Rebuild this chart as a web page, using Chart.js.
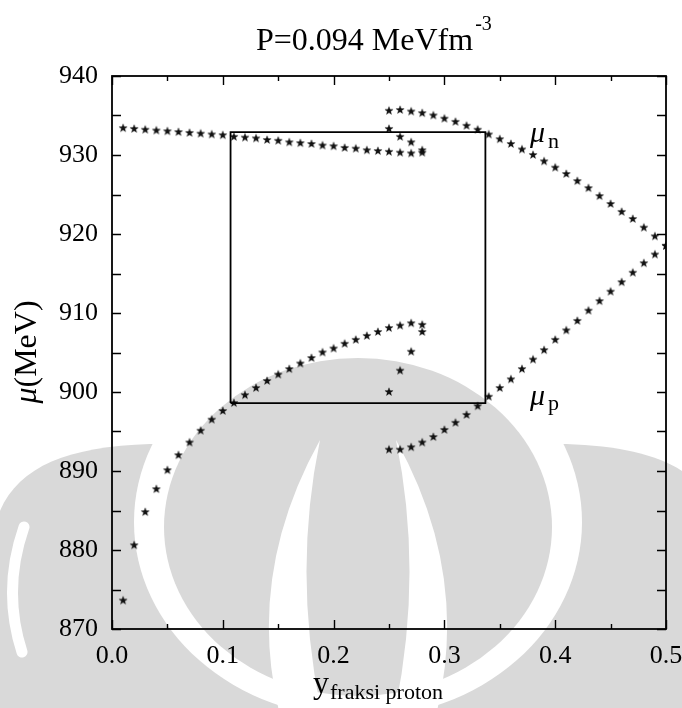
<!DOCTYPE html>
<html>
<head>
<meta charset="utf-8">
<script src="https://cdn.jsdelivr.net/npm/chart.js@4"></script>
<style>
  body { margin: 0; background: #fff; }
  #wrap { width: 682px; height: 708px; }
</style>
</head>
<body>
<div id="wrap"><canvas id="chart" width="682" height="708"></canvas></div>
<script>
// branch mu_n (upper) inner part
const xUpperLeft = [0.01,0.02,0.03,0.04,0.05,0.06,0.07,0.08,0.09,0.10,0.11,0.12,0.13,0.14,0.15,0.16,0.17,0.18,0.19,0.20,0.21,0.22,0.23,0.24,0.25,0.26,0.27,0.28];
const muUpperLeft = [933.4,933.3,933.2,933.1,933.0,932.9,932.8,932.7,932.6,932.5,932.3,932.2,932.1,931.9,931.8,931.6,931.5,931.4,931.2,931.1,930.9,930.8,930.6,930.5,930.4,930.3,930.2,930.3];
const xSpiralN = [0.25,0.26,0.27,0.28];
const muSpiralN = [933.3,932.3,931.6,930.6];
const xOuterN = [0.25,0.26,0.27,0.28,0.29,0.30,0.31,0.32,0.33,0.34,0.35,0.36,0.37,0.38,0.39,0.40,0.41,0.42,0.43,0.44,0.45,0.46,0.47,0.48,0.49,0.50];
const muOuterN = [935.6,935.7,935.5,935.3,935.0,934.6,934.2,933.7,933.2,932.6,932.0,931.4,930.7,930.0,929.2,928.4,927.6,926.7,925.8,924.8,923.8,922.8,921.9,920.8,919.7,918.5];

// branch mu_p (lower)
const xLowerInner = [0.01,0.02,0.03,0.04,0.05,0.06,0.07,0.08,0.09,0.10,0.11,0.12,0.13,0.14,0.15,0.16,0.17,0.18,0.19,0.20,0.21,0.22,0.23,0.24,0.25,0.26,0.27,0.28];
const muLowerInner = [873.6,880.6,884.8,887.7,890.1,892.0,893.6,895.1,896.5,897.6,898.6,899.6,900.5,901.4,902.2,902.9,903.6,904.3,905.0,905.5,906.1,906.6,907.1,907.6,908.1,908.4,908.7,908.5];
const xSpiralP = [0.28,0.27,0.26,0.25];
const muSpiralP = [907.6,905.1,902.7,900.0];
const xOuterP = [0.25,0.26,0.27,0.28,0.29,0.30,0.31,0.32,0.33,0.34,0.35,0.36,0.37,0.38,0.39,0.40,0.41,0.42,0.43,0.44,0.45,0.46,0.47,0.48,0.49,0.50];
const muOuterP = [892.7,892.7,893.0,893.6,894.3,895.2,896.1,897.1,898.2,899.4,900.5,901.6,902.9,904.1,905.3,906.6,907.8,909.0,910.3,911.5,912.7,913.9,915.1,916.3,917.4,918.5];

// rectangle (coexistence region)
const boxX = [0.107,0.107,0.337,0.337,0.107];
const boxMu = [898.6,932.9,932.9,898.6,898.6];

// ticks
const xTicks = [0,0.05,0.1,0.15,0.2,0.25,0.3,0.35,0.4,0.45,0.5];
const xTickLabels = ['0.0','0.1','0.2','0.3','0.4','0.5'];
const yTicks = [870,875,880,885,890,895,900,905,910,915,920,925,930,935,940];

const toPts = (xs, ys) => xs.map((x, i) => ({ x: x, y: ys[i] }));

function makeStar(r) {
  const s = Math.ceil(r * 2 + 3);
  const c = document.createElement('canvas');
  c.width = s; c.height = s;
  const g = c.getContext('2d');
  g.translate(s / 2, s / 2);
  g.beginPath();
  for (let i = 0; i < 10; i++) {
    const a = -Math.PI / 2 + i * Math.PI / 5;
    const rr = i % 2 ? r * 0.42 : r;
    g.lineTo(Math.cos(a) * rr, Math.sin(a) * rr);
  }
  g.closePath();
  g.fillStyle = '#111';
  g.fill();
  g.strokeStyle = 'rgba(0,0,0,0.5)';
  g.lineWidth = 0.6;
  g.stroke();
  return c;
}
const star = makeStar(4.3);

const SERIF = '"Liberation Serif", "Times New Roman", serif';

// gray watermark in the background (rough logo shape)
const watermark = {
  id: 'watermark',
  beforeDraw(chart) {
    const ctx = chart.ctx;
    ctx.save();
    ctx.fillStyle = '#fff';
    ctx.fillRect(0, 0, chart.width, chart.height);
    const gray = '#d9d9d9';
    // outer piece
    ctx.fillStyle = gray;
    ctx.beginPath();
    ctx.moveTo(-5, 708);
    ctx.lineTo(-5, 525);
    ctx.bezierCurveTo(10, 470, 60, 447, 150, 444);
    ctx.lineTo(566, 444);
    ctx.bezierCurveTo(656, 447, 706, 470, 721, 525);
    ctx.lineTo(721, 708);
    ctx.closePath();
    ctx.fill();
    // white ring round the dome
    ctx.fillStyle = '#fff';
    ctx.beginPath();
    ctx.ellipse(358, 522, 224, 196, 0, 0, Math.PI * 2);
    ctx.fill();
    // dome
    ctx.fillStyle = gray;
    ctx.beginPath();
    ctx.ellipse(358, 527, 194, 169, 0, 0, Math.PI * 2);
    ctx.fill();
    // inner crescents
    ctx.fillStyle = '#fff';
    ctx.beginPath();
    ctx.moveTo(320, 440);
    ctx.quadraticCurveTo(245, 575, 280, 715);
    ctx.lineTo(322, 715);
    ctx.quadraticCurveTo(292, 575, 320, 440);
    ctx.fill();
    ctx.beginPath();
    ctx.moveTo(396, 440);
    ctx.quadraticCurveTo(471, 575, 436, 715);
    ctx.lineTo(394, 715);
    ctx.quadraticCurveTo(424, 575, 396, 440);
    ctx.fill();
    // thin edge arc
    ctx.strokeStyle = '#fff';
    ctx.lineCap = 'round';
    ctx.lineWidth = 11;
    ctx.beginPath();
    ctx.moveTo(24, 527);
    ctx.quadraticCurveTo(2, 590, 22, 652);
    ctx.stroke();
    ctx.restore();
  }
};

// frame, inward ticks on all sides, and the texts
const frame = {
  id: 'frame',
  afterDatasetsDraw(chart) {
    const ctx = chart.ctx;
    const a = chart.chartArea;
    const xs = chart.scales.x, ys = chart.scales.y;
    ctx.save();
    ctx.strokeStyle = '#000';
    ctx.lineWidth = 1.8;
    ctx.strokeRect(a.left, a.top, a.right - a.left, a.bottom - a.top);
    ctx.lineWidth = 1.4;
    ctx.beginPath();
    xTicks.forEach((v, i) => {
      const px = Math.round(xs.getPixelForValue(v)) + 0.5;
      const len = i % 2 === 0 ? 9 : 5;
      ctx.moveTo(px, a.bottom); ctx.lineTo(px, a.bottom - len);
      ctx.moveTo(px, a.top); ctx.lineTo(px, a.top + len);
    });
    yTicks.forEach(v => {
      const py = Math.round(ys.getPixelForValue(v)) + 0.5;
      ctx.moveTo(a.left, py); ctx.lineTo(a.left + 9, py);
      ctx.moveTo(a.right, py); ctx.lineTo(a.right - 9, py);
    });
    ctx.stroke();

    ctx.fillStyle = '#000';
    ctx.textBaseline = 'alphabetic';
    ctx.textAlign = 'left';
    // title
    ctx.font = '32px ' + SERIF;
    const t = 'P=0.094 MeVfm';
    ctx.fillText(t, 256, 50);
    const tw = ctx.measureText(t).width;
    ctx.font = '20px ' + SERIF;
    ctx.fillText('-3', 256 + tw + 2, 30);

    // x axis title
    ctx.font = '32px ' + SERIF;
    ctx.fillText('y', 313, 693);
    const yw = ctx.measureText('y').width;
    ctx.font = '22px ' + SERIF;
    ctx.fillText('fraksi proton', 313 + yw + 1, 699);

    // y axis title
    ctx.save();
    ctx.translate(36, 352);
    ctx.rotate(-Math.PI / 2);
    ctx.font = 'italic 32px ' + SERIF;
    const mw = ctx.measureText('\u03bc').width;
    ctx.font = '32px ' + SERIF;
    const rw = ctx.measureText('(MeV)').width;
    const start = -(mw + rw) / 2;
    ctx.font = 'italic 32px ' + SERIF;
    ctx.fillText('\u03bc', start, 0);
    ctx.font = '32px ' + SERIF;
    ctx.fillText('(MeV)', start + mw, 0);
    ctx.restore();

    // curve labels
    ctx.font = 'italic 30px ' + SERIF;
    ctx.fillText('\u03bc', 530, 142);
    ctx.fillText('\u03bc', 530, 405);
    ctx.font = '22px ' + SERIF;
    ctx.fillText('n', 548, 148);
    ctx.fillText('p', 548, 410);
    ctx.restore();
  }
};

const starSet = (data) => ({
  data: data,
  showLine: false,
  pointStyle: star,
  pointRadius: 4,
  pointHoverRadius: 4
});

new Chart(document.getElementById('chart'), {
  type: 'scatter',
  data: {
    datasets: [
      {
        data: toPts(boxX, boxMu),
        showLine: true,
        borderColor: '#000',
        borderWidth: 1.8,
        pointRadius: 0,
        fill: false
      },
      starSet(toPts(xUpperLeft, muUpperLeft)),
      starSet(toPts(xSpiralN, muSpiralN)),
      starSet(toPts(xOuterN, muOuterN)),
      starSet(toPts(xLowerInner, muLowerInner)),
      starSet(toPts(xSpiralP, muSpiralP)),
      starSet(toPts(xOuterP, muOuterP))
    ]
  },
  options: {
    responsive: false,
    animation: false,
    devicePixelRatio: 1,
    layout: { padding: { top: 76, right: 16, left: 0, bottom: 0 } },
    plugins: { legend: { display: false }, tooltip: { enabled: false } },
    scales: {
      x: {
        type: 'linear',
        min: 0, max: 0.5,
        grid: { display: false, drawTicks: false },
        border: { display: false },
        afterFit: (s) => { s.height = 79; s.paddingLeft = 0; s.paddingRight = 0; },
        afterBuildTicks: (s) => { s.ticks = xTickLabels.map(l => ({ value: parseFloat(l) })); },
        ticks: {
          padding: 12,
          color: '#000',
          font: { family: SERIF, size: 26 },
          callback: (v) => Number(v).toFixed(1)
        }
      },
      y: {
        type: 'linear',
        min: 870, max: 940,
        grid: { display: false, drawTicks: false },
        border: { display: false },
        afterFit: (s) => { s.width = 112; s.paddingTop = 0; s.paddingBottom = 0; },
        afterBuildTicks: (s) => { s.ticks = yTicks.filter(v => v % 10 === 0).map(v => ({ value: v })); },
        ticks: {
          padding: 14,
          color: '#000',
          font: { family: SERIF, size: 26 }
        }
      }
    }
  },
  plugins: [watermark, frame]
});
</script>
</body>
</html>
